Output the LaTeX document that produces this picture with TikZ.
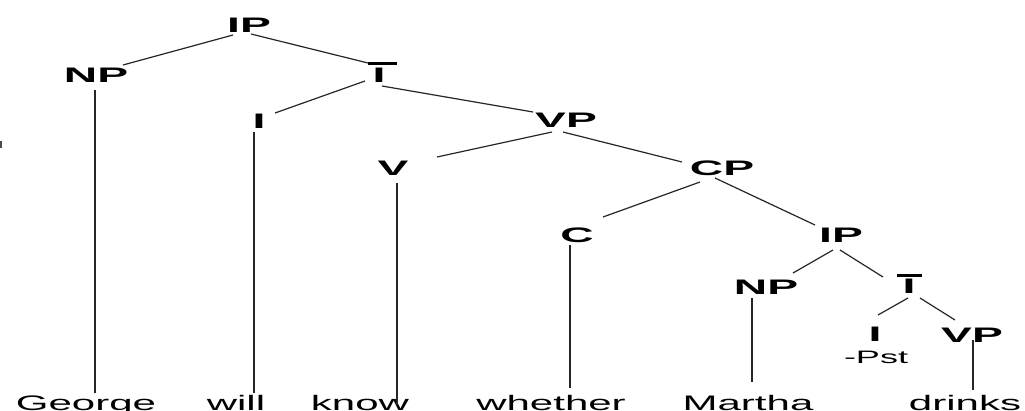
\documentclass[tikz,border=0pt]{standalone}
\usepackage{fontspec}
\setmainfont{Liberation Sans}
\usetikzlibrary{calc}
\tikzset{
  cat/.style={anchor=base, inner sep=0pt, font=\fontsize{21}{21}\selectfont\bfseries},
  word/.style={anchor=base, inner sep=0pt, font=\fontsize{21}{21}\selectfont},
  feat/.style={anchor=base, inner sep=0pt, font=\fontsize{18}{18}\selectfont},
  branch/.style={line width=1.2pt, color=black!85},
  stem/.style={line width=1.8pt, color=black!85},
  barline/.style={line width=3pt, color=black}
}
\newcommand{\wide}[2][2.2]{\scalebox{#1}[1]{#2}}
\begin{document}
\begin{tikzpicture}[x=1pt, y=-1pt]
\clip (0,0) rectangle (1025,410);
\fill[white] (0,0) rectangle (1025,410);

% category labels
\node[cat] (ip)    at (249,32)  {\wide{IP}};
\node[cat] (np)    at (96,82)   {\wide{NP}};
\node[cat] (ibar)  at (379,82)  {\wide{I}};
\node[cat] (i)     at (259,128) {\wide{I}};
\node[cat] (vp)    at (566,127) {\wide{VP}};
\node[cat] (v)     at (393,175) {\wide{V}};
\node[cat] (cp)    at (722,175) {\wide{CP}};
\node[cat] (c)     at (577,242) {\wide{C}};
\node[cat] (ip2)   at (841,242) {\wide{IP}};
\node[cat] (np2)   at (766,294) {\wide{NP}};
\node[cat] (ibar2) at (909,293) {\wide{I}};
\node[cat] (i2)    at (875,341) {\wide{I}};
\node[cat] (vp2)   at (972,342) {\wide{VP}};
\node[feat] (pst)  at (876,363) {\wide[2.0]{-Pst}};

% bars over the I-bar labels
\draw[barline] ($(ibar.base)+(-11,-19)$) -- ($(ibar.base)+(18,-19)$);
\draw[barline] ($(ibar2.base)+(-12,-18)$) -- ($(ibar2.base)+(13,-18)$);

% words
\node[word] (george)  at (86,410)  {\wide[2.0]{George}};
\node[word] (will)    at (236,410) {\wide[2.0]{will}};
\node[word] (know)    at (360,410) {\wide[2.0]{know}};
\node[word] (whether) at (551,410) {\wide[2.0]{whether}};
\node[word] (martha)  at (748,410) {\wide[2.0]{Martha}};
\node[word] (drinks)  at (965,410) {\wide[2.0]{drinks}};

% branches
\draw[branch] ($(ip.base)+(-16,3)$)   -- ($(np.base)+(27,-17)$);
\draw[branch] ($(ip.base)+(2,2)$)     -- ($(ibar.base)+(-11,-19)$);
\draw[branch] ($(ibar.base)+(-14,-1)$) -- ($(i.base)+(16,-15)$);
\draw[branch] ($(ibar.base)+(3,4)$)   -- ($(vp.base)+(-33,-15)$);
\draw[branch] ($(vp.base)+(-14,5)$)   -- ($(v.base)+(44,-18)$);
\draw[branch] ($(vp.base)+(-3,5)$)    -- ($(cp.base)+(-40,-13)$);
\draw[branch] ($(cp.base)+(-22,7)$)   -- ($(c.base)+(26,-25)$);
\draw[branch] ($(cp.base)+(-7,3)$)    -- ($(ip2.base)+(-26,-17)$);
\draw[branch] ($(ip2.base)+(-8,8)$)   -- ($(np2.base)+(27,-21)$);
\draw[branch] ($(ip2.base)+(-1,8)$)   -- ($(ibar2.base)+(-26,-16)$);
\draw[branch] ($(ibar2.base)+(-1,5)$) -- ($(i2.base)+(3,-26)$);
\draw[branch] ($(ibar2.base)+(11,5)$) -- ($(vp2.base)+(-17,-22)$);

% stems down to the words
\draw[stem] ($(np.base)+(-1,8)$)  -- ($(george.base)+(9,-17)$);
\draw[stem] ($(i.base)+(-5,4)$)   -- ($(will.base)+(18,-17)$);
\draw[stem] ($(v.base)+(4,8)$)    -- ($(know.base)+(37,-5)$);
\draw[stem] ($(c.base)+(-7,3)$)   -- ($(whether.base)+(19,-22)$);
\draw[stem] ($(np2.base)+(-14,4)$) -- ($(martha.base)+(4,-28)$);
\draw[stem] ($(vp2.base)+(1,-2)$) -- ($(drinks.base)+(8,-20)$);

% small mark at the left edge
\draw[line width=2.5pt, color=black!70] (1,141) -- (1,148);
\end{tikzpicture}
\end{document}
